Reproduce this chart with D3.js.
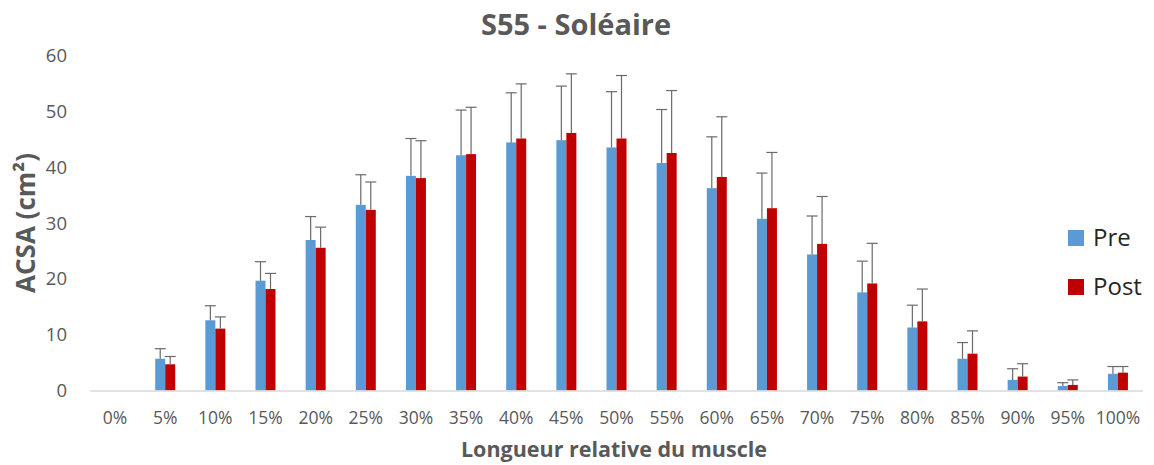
<!DOCTYPE html>
<html>
<head>
<meta charset="utf-8">
<script src="https://cdn.jsdelivr.net/npm/d3@7"></script>
<style>
  html, body { margin: 0; padding: 0; background: #fff; }
  svg { display: block; font-family: "Open Sans", sans-serif; }
</style>
</head>
<body>
<div id="chart"></div>
<script>
// S55 - Soléaire: ACSA along relative muscle length, pre vs post
const categories = ["0%", "5%", "10%", "15%", "20%", "25%", "30%", "35%", "40%", "45%", "50%",
  "55%", "60%", "65%", "70%", "75%", "80%", "85%", "90%", "95%", "100%"];
const preValues = [0, 5.7, 12.6, 19.7, 27.0, 33.3, 38.5, 42.2, 44.5, 44.9, 43.6,
  40.8, 36.3, 30.8, 24.4, 17.6, 11.3, 5.7, 1.9, 0.8, 3.0];
const preErr = [0, 1.8, 2.6, 3.4, 4.2, 5.4, 6.7, 8.1, 8.9, 9.7, 10.0,
  9.6, 9.2, 8.2, 6.9, 5.6, 4.0, 2.9, 2.0, 0.6, 1.3];
const postValues = [0, 4.7, 11.1, 18.2, 25.6, 32.4, 38.1, 42.4, 45.2, 46.2, 45.2,
  42.6, 38.3, 32.7, 26.3, 19.2, 12.4, 6.6, 2.5, 1.0, 3.2];
const postErr = [0, 1.4, 2.1, 2.8, 3.7, 5.0, 6.7, 8.4, 9.8, 10.6, 11.3,
  11.2, 10.8, 10.0, 8.5, 7.2, 5.8, 4.1, 2.3, 0.9, 1.1];
const yTicks = [0, 10, 20, 30, 40, 50, 60];
const seriesNames = ["Pre", "Post"];
const seriesColors = ["#5B9BD5", "#C00000"];

const width = 1154, height = 465;
const svg = d3.select("#chart").append("svg")
  .attr("width", width)
  .attr("height", height);

const x = d3.scaleBand().domain(categories).range([90, 1143]).padding(0);
const xs = d3.scaleBand().domain(seriesNames).range([0, 20]);
const y = d3.scaleLinear().domain([0, 60]).range([390.5, 56]);

const series = [
  { name: "Pre", values: preValues, err: preErr },
  { name: "Post", values: postValues, err: postErr }
];

// title
svg.append("text")
  .attr("x", 576).attr("y", 35)
  .attr("text-anchor", "middle")
  .attr("font-size", 29).attr("font-weight", "bold")
  .attr("fill", "#595959")
  .text("S55 - Soléaire");

// y axis labels
svg.append("g").selectAll("text")
  .data(yTicks)
  .enter().append("text")
  .attr("x", 67)
  .attr("y", d => y(d))
  .attr("dy", "0.35em")
  .attr("text-anchor", "end")
  .attr("font-size", 18.5)
  .attr("fill", "#595959")
  .text(d => d);

// y axis title
svg.append("text")
  .attr("transform", "translate(35,223) rotate(-90)")
  .attr("text-anchor", "middle")
  .attr("font-size", 26).attr("font-weight", "bold")
  .attr("fill", "#595959")
  .text("ACSA (cm²)");

// bars
const groups = svg.append("g").selectAll("g")
  .data(series)
  .enter().append("g");

groups.each(function(s, si) {
  const g = d3.select(this);
  const bx = (d, i) => x(categories[i]) + x.bandwidth() / 2 - 10 + xs(s.name);
  g.selectAll("rect")
    .data(s.values)
    .enter().append("rect")
    .attr("x", bx)
    .attr("y", d => y(d))
    .attr("width", xs.bandwidth())
    .attr("height", d => y(0) - y(d))
    .attr("fill", seriesColors[si]);

  // upper error bars
  const eb = g.selectAll("g.err")
    .data(s.values.map((v, i) => ({ v, e: s.err[i], i })).filter(d => d.v > 0))
    .enter().append("g")
    .attr("stroke", "#6a6a6a")
    .attr("stroke-width", 1.2);
  eb.append("line")
    .attr("x1", d => bx(d.v, d.i) + xs.bandwidth() / 2)
    .attr("x2", d => bx(d.v, d.i) + xs.bandwidth() / 2)
    .attr("y1", d => y(d.v))
    .attr("y2", d => y(d.v + d.e));
  eb.append("line")
    .attr("x1", d => bx(d.v, d.i) + xs.bandwidth() / 2 - 5.5)
    .attr("x2", d => bx(d.v, d.i) + xs.bandwidth() / 2 + 5.5)
    .attr("y1", d => y(d.v + d.e))
    .attr("y2", d => y(d.v + d.e));
});

// baseline
svg.append("line")
  .attr("x1", 90).attr("x2", 1143)
  .attr("y1", y(0) + 0.5).attr("y2", y(0) + 0.5)
  .attr("stroke", "#d9d9d9")
  .attr("stroke-width", 1.5);

// x axis labels
svg.append("g").selectAll("text")
  .data(categories)
  .enter().append("text")
  .attr("x", d => x(d) + x.bandwidth() / 2)
  .attr("y", 418)
  .attr("dy", "0.35em")
  .attr("text-anchor", "middle")
  .attr("font-size", 17.5)
  .attr("fill", "#595959")
  .text(d => d);

// x axis title
svg.append("text")
  .attr("x", 614).attr("y", 457)
  .attr("text-anchor", "middle")
  .attr("font-size", 21.5).attr("font-weight", "bold")
  .attr("fill", "#595959")
  .text("Longueur relative du muscle");

// legend
const legend = svg.append("g").selectAll("g")
  .data(seriesNames)
  .enter().append("g")
  .attr("transform", (d, i) => `translate(1068,${230 + i * 49})`);
legend.append("rect")
  .attr("width", 16).attr("height", 16)
  .attr("fill", (d, i) => seriesColors[i]);
legend.append("text")
  .attr("x", 25).attr("y", 8)
  .attr("dy", "0.35em")
  .attr("font-size", 24)
  .attr("fill", "#262626")
  .text(d => d);
</script>
</body>
</html>
